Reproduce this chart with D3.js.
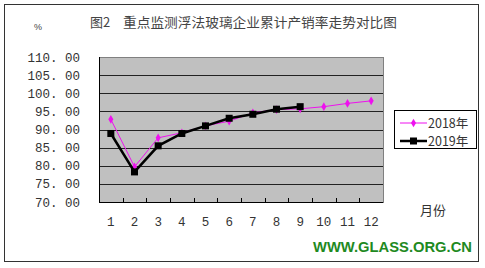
<!DOCTYPE html>
<html><head><meta charset="utf-8">
<script src="https://cdn.jsdelivr.net/npm/d3@7"></script>
<style>html,body{margin:0;padding:0;background:#fff;}svg{display:block;}</style>
</head><body>
<svg id="c" width="485" height="268"></svg>
<script>
const months = ["1","2","3","4","5","6","7","8","9","10","11","12"];
const s2018 = [92.8, 79.7, 87.7, 89.1, 91.0, 92.3, 94.6, 95.5, 95.7, 96.3, 97.2, 97.9];
const s2019 = [88.9, 78.3, 85.5, 88.9, 91.0, 93.1, 94.2, 95.6, 96.3];
const yTicks = [70, 75, 80, 85, 90, 95, 100, 105, 110];
const seriesNames = ["2018年", "2019年"];
const titleA = "图2";
const titleB = "重点监测浮法玻璃企业累计产销率走势对比图";

const svg = d3.select("#c");
const L = 99, R = 383, T = 57, B = 202;
const x = d3.scaleBand().domain(months).range([L, R]);
const y = d3.scaleLinear().domain([70, 110]).range([B, T]);
const cx = d => x(d) + x.bandwidth() / 2;

// outer frame
svg.append("rect").attr("x", 4.5).attr("y", 4.5).attr("width", 474).attr("height", 257)
  .attr("fill", "#fff").attr("stroke", "#333").attr("stroke-width", 1);

// plot area
svg.append("rect").attr("x", L).attr("y", T).attr("width", R - L).attr("height", B - T)
  .attr("fill", "#c0c0c0");

// gridlines
svg.append("g").selectAll("line").data(yTicks).join("line")
  .attr("x1", L).attr("x2", R)
  .attr("y1", d => Math.round(y(d)) + 0.5).attr("y2", d => Math.round(y(d)) + 0.5)
  .attr("stroke", "#222").attr("stroke-width", 1);

// plot border (top/right gray)
svg.append("line").attr("x1", R + 0.5).attr("x2", R + 0.5).attr("y1", T).attr("y2", B)
  .attr("stroke", "#808080");
svg.append("line").attr("x1", L).attr("x2", R).attr("y1", T + 0.5).attr("y2", T + 0.5)
  .attr("stroke", "#808080");
// left axis
svg.append("line").attr("x1", L + 0.5).attr("x2", L + 0.5).attr("y1", T).attr("y2", B + 1)
  .attr("stroke", "#000");

// y axis labels
const yAxis = d3.axisLeft(y).tickValues(yTicks).tickSize(0).tickPadding(0)
  .tickFormat(d => d3.format(".2f")(d).replace(".", ". "));
const gy = svg.append("g").attr("transform", `translate(${80},0)`).call(yAxis);
gy.select(".domain").remove();
gy.selectAll("text").attr("font-family", "'Liberation Mono', monospace").attr("font-size", 12.5)
  .attr("fill", "#333").attr("xml:space", "preserve").style("white-space", "pre");

// x axis
const xAxis = d3.axisBottom(x).tickSize(0).tickPadding(0);
const gx = svg.append("g").attr("transform", `translate(0,${B})`).call(xAxis);
gx.select(".domain").attr("stroke", "#000");
gx.selectAll("text").attr("font-family", "'Liberation Mono', monospace").attr("font-size", 12.5)
  .attr("fill", "#333").attr("dy", 0).attr("y", 24);
// boundary ticks pointing up
svg.append("g").selectAll("line").data(months.slice(1)).join("line")
  .attr("x1", d => Math.round(x(d)) + 0.5).attr("x2", d => Math.round(x(d)) + 0.5)
  .attr("y1", B - 4).attr("y2", B).attr("stroke", "#000");

// series
const line = d3.line().x((d, i) => cx(months[i])).y(d => y(d));
svg.append("path").datum(s2018).attr("d", line).attr("fill", "none")
  .attr("stroke", "#ee11ee").attr("stroke-width", 1);
svg.append("g").selectAll("path").data(s2018).join("path")
  .attr("d", d3.symbol(d3.symbolDiamond, 22)())
  .attr("transform", (d, i) => `translate(${cx(months[i])},${y(d)})`)
  .attr("fill", "#ee11ee");

svg.append("path").datum(s2019).attr("d", line).attr("fill", "none")
  .attr("stroke", "#000").attr("stroke-width", 2.5);
svg.append("g").selectAll("rect").data(s2019).join("rect")
  .attr("x", (d, i) => cx(months[i]) - 3.5).attr("y", d => y(d) - 3.5)
  .attr("width", 7).attr("height", 7).attr("fill", "#000");

// title
svg.append("text").attr("x", 90).attr("y", 27).text(titleA)
  .attr("font-family", "'Noto Sans CJK SC', sans-serif").attr("font-size", 13).attr("fill", "#444");
svg.append("text").attr("x", 123).attr("y", 27).text(titleB)
  .attr("textLength", 274).attr("lengthAdjust", "spacingAndGlyphs")
  .attr("font-family", "'Noto Sans CJK SC', sans-serif").attr("font-size", 13).attr("fill", "#444");
svg.append("text").attr("x", 34).attr("y", 30).text("%")
  .attr("font-family", "'Liberation Sans', sans-serif").attr("font-size", 9).attr("fill", "#444");

// x title
svg.append("text").attr("x", 433).attr("y", 215).attr("text-anchor", "middle").text("月份")
  .attr("font-family", "'Noto Sans CJK SC', sans-serif").attr("font-size", 13).attr("fill", "#333");

// legend
const lg = svg.append("g");
lg.append("rect").attr("x", 394.5).attr("y", 110.5).attr("width", 82).attr("height", 38)
  .attr("fill", "#fff").attr("stroke", "#000");
const ly = [123, 141];
[0, 1].forEach(i => {
  lg.append("line").attr("x1", 400).attr("x2", 427).attr("y1", ly[i]).attr("y2", ly[i])
    .attr("stroke", i === 0 ? "#ee11ee" : "#000").attr("stroke-width", i === 0 ? 1 : 2.5);
  if (i === 0) {
    lg.append("path").attr("d", d3.symbol(d3.symbolDiamond, 22)())
      .attr("transform", `translate(413.5,${ly[i]})`).attr("fill", "#ee11ee");
  } else {
    lg.append("rect").attr("x", 410).attr("y", ly[i] - 3.5).attr("width", 7).attr("height", 7).attr("fill", "#000");
  }
  lg.append("text").attr("x", 428).attr("y", ly[i] + 4.5).text(seriesNames[i])
    .attr("font-family", "'Noto Sans CJK SC', sans-serif").attr("font-size", 12.5).attr("fill", "#333");
});

// watermark
svg.append("text").attr("x", 313).attr("y", 252).text("WWW.GLASS.ORG.CN")
  .attr("textLength", 159).attr("lengthAdjust", "spacingAndGlyphs")
  .attr("font-family", "'Liberation Sans', Arial, sans-serif").attr("font-weight", "900")
  .attr("font-size", 15).attr("fill", "#1f8a1f");
</script>
</body></html>
